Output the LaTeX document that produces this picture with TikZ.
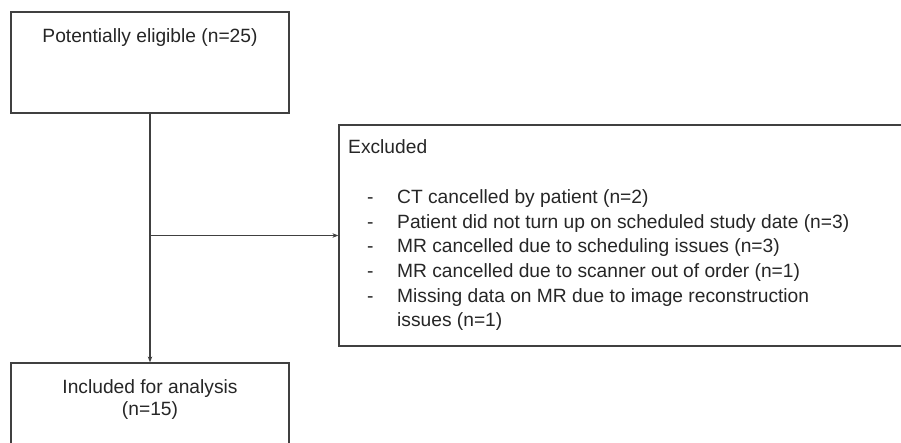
\documentclass[tikz,border=0pt]{standalone}
\usepackage{fontspec}
\setmainfont{Liberation Sans}
\usetikzlibrary{arrows.meta}
\definecolor{ln}{HTML}{404040}
\definecolor{tx}{HTML}{262626}
\begin{document}
\begin{tikzpicture}[x=1pt,y=-1pt,
  box/.style={draw=ln, line width=1.2pt, rectangle, inner sep=0pt},
  txt/.style={text=tx, font=\fontsize{19.2}{23}\selectfont, inner sep=0pt, anchor=base},
  ltxt/.style={txt, anchor=base west},
  arr/.style={draw=ln, line width=1.2pt, -{Stealth[length=6pt,width=4.5pt]}}]
\useasboundingbox (0,0) rectangle (901,442);
\clip (0,0) rectangle (901,442);
\fill[white] (0,0) rectangle (901,442);
% boxes
\node[box, minimum width=278pt, minimum height=101pt] (top) at (150,62.5) {};
\node[box, minimum width=600pt, minimum height=221pt] (excl) at (639,235.5) {};
\node[box, minimum width=278pt, minimum height=100pt] (incl) at (150,413) {};
% texts
\node[txt] (t1) at (150,42.5) {Potentially eligible (n=25)};
\node[txt] (t2) at (150,393) {Included for analysis};
\node[txt] (t3) at (150,415.5) {(n=15)};
\node[ltxt] (e0) at (348,153) {Excluded};
\foreach \i/\yy/\s in {1/203/{CT cancelled by patient (n=2)},
  2/228/{Patient did not turn up on scheduled study date (n=3)},
  3/252.5/{MR cancelled due to scheduling issues (n=3)},
  4/277/{MR cancelled due to scanner out of order (n=1)},
  5/302/{Missing data on MR due to image reconstruction}}{
  \node[ltxt] (d\i) at (367,\yy) {-};
  \node[ltxt] (e\i) at (397,\yy) {\s};
}
\node[ltxt] (e6) at (397,326) {issues (n=1)};
% connectors
\coordinate (j) at (top.south |- excl.west);
\draw[arr] (top.south) -- (incl.north);
\draw[arr] (j) -- (excl.west);
\end{tikzpicture}
\end{document}
